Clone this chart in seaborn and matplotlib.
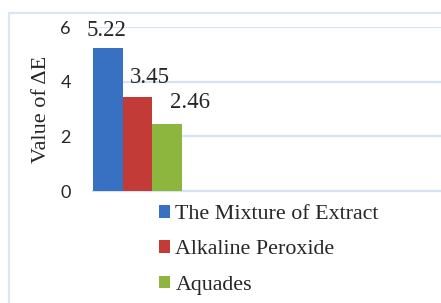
import pandas as pd
import matplotlib.pyplot as plt
import seaborn as sns
from matplotlib.patches import Rectangle

# 数据
series = ['The Mixture of Extract', 'Alkaline Peroxide', 'Aquades']
values = [5.22, 3.45, 2.46]
colors = ['#3870C2', '#C33B36', '#8DB63E']
# 标签偏移（points），原图标签是手动拖过位置的
label_offsets = [(-0.7, 8.6), (8.6, 10), (16.5, 11.5)]

df = pd.DataFrame({'group': ['g'] * 3, 'series': series, 'value': values})

sns.set_style('white')
plt.rcParams['font.family'] = ['Liberation Serif', 'DejaVu Serif']

fig = plt.figure(figsize=(4.41, 3.03), dpi=100)
W, H = 441, 303
ax = fig.add_axes([93 / W, (H - 191) / H, 1 - 93 / W, 164 / H])

# 外框
fig.patches.append(Rectangle((8.5 / W, -0.1), 1.2, (H - 13) / H + 0.1,
                             transform=fig.transFigure, fill=False,
                             edgecolor='#DCE6F2', linewidth=1.6))

sns.barplot(data=df, x='group', y='value', hue='series', palette=colors,
            width=0.8, saturation=1, linewidth=0, ax=ax, legend=True, zorder=3)

ax.set_ylim(0, 6)
ax.set_xlim(-0.4, -0.4 + 348 / 111.4)
ax.set_yticks([0, 2, 4, 6])
ax.set_yticklabels(['0', '2', '4', '6'], family='Lato', fontsize=13)
ax.tick_params(axis='y', length=0, pad=16)
ax.set_xticks([])
ax.set_xlabel('')
ax.set_ylabel('Value of ΔE', fontsize=16, labelpad=7)
ax.grid(axis='y', color='#D6E3F3', linewidth=1.6, zorder=0)
for s in ['top', 'right', 'left']:
    ax.spines[s].set_visible(False)
ax.spines['bottom'].set_color('#D6E3F3')
ax.spines['bottom'].set_linewidth(1.6)

# 数值标签
for bar, v, off in zip(ax.patches, values, label_offsets):
    ax.annotate(f'{v:.2f}', (bar.get_x() + bar.get_width() / 2, v),
                xytext=off, textcoords='offset points',
                ha='center', va='baseline', fontsize=16.5)

ax.get_legend().remove()
handles, labels = ax.get_legend_handles_labels()
fig.legend(handles, labels, loc='upper left', bbox_to_anchor=(159 / W, 1 - 205 / H),
           frameon=False, fontsize=15.8, handlelength=0.5, handleheight=0.5,
           handletextpad=0.25, labelspacing=0.74, borderpad=0, borderaxespad=0)

plt.savefig('out.png', dpi=100)
